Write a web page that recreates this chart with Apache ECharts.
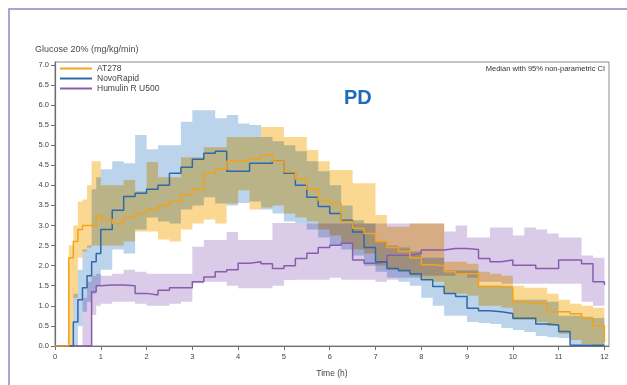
<!DOCTYPE html>
<html><head><meta charset="utf-8">
<script src="https://cdn.jsdelivr.net/npm/echarts@6/dist/echarts.min.js"></script>
<style>html,body{margin:0;padding:0;background:#fff}#c{width:627px;height:385px}</style>
</head><body><div id="c"></div>
<script>
const times = [0,0.1,0.2,0.3,0.4,0.5,0.6,0.7,0.8,0.9,1,
 1.25,1.5,1.75,2,2.25,2.5,2.75,3,
 3.25,3.5,3.75,4,4.25,4.5,4.75,5,
 5.25,5.5,5.75,6,6.25,6.5,6.75,7,
 7.25,7.5,7.75,8,8.25,8.5,8.75,9,
 9.25,9.5,9.75,10,10.25,10.5,10.75,11,
 11.25,11.5,11.75,12];

const at278Median = [0,0,0,2.2,2.6,2.9,3.0,3.0,3.0,3.25,3.15,
 3.05,3.2,3.3,3.4,3.5,3.6,3.75,3.9,
 4.3,4.4,4.6,4.6,4.65,4.75,4.6,4.34,
 4.15,3.9,3.63,3.55,3.1,2.93,2.8,2.6,
 2.45,2.35,2.2,2.02,2.0,1.85,1.8,1.8,
 1.48,1.48,1.45,1.1,1.06,1.06,0.85,0.85,
 0.8,0.69,0.5,0.1];
const at278Upper = [0,0,0,2.5,3.0,3.6,3.65,4.0,4.6,4.6,4.0,
 4.0,4.13,3.85,4.58,4.2,4.2,4.7,4.7,
 4.95,4.95,5.2,5.2,5.2,5.45,5.45,5.2,
 5.2,4.88,4.6,4.38,4.38,4.05,4.05,3.26,
 2.97,2.97,3.05,3.05,3.05,2.1,2.1,2.05,
 1.85,1.8,1.75,1.5,1.45,1.45,1.3,1.15,
 1.05,1.0,0.95,0];
const at278Lower = [0,0,0,0,1.2,2.2,2.35,2.45,2.5,2.5,2.5,
 2.5,2.6,2.85,2.85,2.65,2.6,2.9,3.05,
 3.15,3.05,3.55,3.88,3.4,3.45,3.5,3.3,
 3.2,3.1,2.9,2.75,2.55,2.4,2.3,2.0,
 1.9,1.85,1.75,1.65,1.6,1.3,1.3,1.25,
 1.0,1.0,0.95,0.65,0.65,0.6,0.5,0.3,
 0.15,0.05,0,0];

const novoMedian = [0,0,0,0,0.6,1.15,1.45,1.75,2.1,2.3,2.9,
 3.38,3.72,3.8,3.9,4.0,4.3,4.45,4.65,
 4.8,4.85,4.35,4.35,4.55,4.55,4.6,4.3,
 4.0,3.7,3.47,3.3,3.13,2.84,2.45,2.1,
 1.93,1.88,1.8,1.65,1.48,1.31,1.23,0.94,
 0.88,0.85,0.81,0.69,0.69,0.55,0.52,0.36,
 0.02,0.02,0.02,0.02];
const novoUpper = [0,0,0,0,1.3,1.9,2.4,2.5,3.9,4.2,4.4,
 4.6,4.55,5.25,4.9,5.0,5.0,5.58,5.87,
 5.87,5.67,5.75,5.54,5.5,5.2,5.1,5.0,
 4.85,4.6,4.35,4.0,3.5,3.13,3.05,2.6,
 2.5,2.45,2.35,2.2,2.2,1.88,1.88,1.88,
 1.5,1.5,1.5,1.15,1.15,1.15,1.1,0.75,
 0.75,0.73,0.7,0];
const novoLower = [0,0,0,0,0,0.5,0.85,1.1,1.3,1.5,1.9,
 2.4,2.3,2.9,3.2,3.1,3.05,3.4,3.5,
 3.7,3.55,3.5,3.56,3.6,3.4,3.3,3.1,
 3.05,2.9,2.7,2.5,2.4,2.25,2.0,1.85,
 1.7,1.6,1.5,1.2,1.0,0.75,0.75,0.6,
 0.57,0.55,0.45,0.4,0.35,0.25,0.22,0.2,
 0,0,0,0];

const humMedian = [0,0,0,0,0,0,0,0,1.35,1.5,1.52,
 1.52,1.5,1.31,1.27,1.39,1.45,1.45,1.6,
 1.72,1.85,1.9,2.06,2.1,2.05,1.93,2.0,
 2.18,2.31,2.45,2.51,2.56,2.14,2.06,2.1,
 2.26,2.26,2.3,2.39,2.39,2.43,2.43,2.4,
 2.18,2.1,2.14,2.01,2.01,1.93,1.93,2.14,
 2.14,2.05,1.6,1.52];
const humUpper = [0,0,0,0,0,0,1.2,1.6,1.75,1.8,1.75,
 1.8,1.9,1.85,1.8,1.8,1.8,1.8,2.47,
 2.64,2.64,2.84,2.64,2.64,2.64,3.06,3.06,
 3.05,3.05,3.05,3.05,3.05,3.05,3.05,3.05,
 3.05,3.05,3.05,3.05,3.05,2.85,3.0,2.7,
 2.7,2.95,2.95,2.75,2.95,2.9,2.8,2.7,
 2.7,2.25,2.2,0];
const humLower = [0,0,0,0,0,0,0,0,0.77,1.0,1.05,
 1.1,1.1,1.05,1.0,1.0,1.05,1.1,1.56,
 1.6,1.6,1.5,1.44,1.44,1.44,1.5,1.64,
 1.65,1.65,1.65,1.7,1.65,1.65,1.65,1.6,
 1.65,1.7,1.7,1.75,1.75,1.75,1.8,1.7,
 1.6,1.6,1.55,1.55,1.55,1.55,1.55,1.55,
 1.55,1.1,1.0,0];

const seriesNames = ['AT278', 'NovoRapid', 'Humulin R U500'];
const yTicks = [0,0.5,1,1.5,2,2.5,3,3.5,4,4.5,5,5.5,6,6.5,7];
const xTicks = [0,1,2,3,4,5,6,7,8,9,10,11,12];

const lineColors = ['#F2A31B', '#2E6AA6', '#8A5CAD'];
const bandColors = ['#FBD892', '#BCD3EC', '#DACBE8'];

function pairs(vals) { return times.map((t, i) => [t, vals[i]]); }

// step band (value holds from t_i until t_{i+1}) drawn as one polygon through the axes
function band(key, lo, up, color) {
  return {
    name: key + '_band', type: 'custom', silent: true, z: 1, animation: false,
    blendMode: 'multiply',
    data: times.map((t, i) => [t, lo[i], up[i]]),
    encode: { x: 0, y: [1, 2] },
    renderItem: function (params, api) {
      if (params.dataIndex !== 0) return null;
      const n = times.length;
      const top = [], bot = [];
      for (let i = 0; i < n; i++) {
        const tEnd = i < n - 1 ? times[i + 1] : times[i];
        top.push(api.coord([times[i], up[i]]));
        top.push(api.coord([tEnd, up[i]]));
        bot.push(api.coord([times[i], lo[i]]));
        bot.push(api.coord([tEnd, lo[i]]));
      }
      const pts = top.concat(bot.reverse());
      return { type: 'polygon', shape: { points: pts }, style: { fill: color, stroke: null } };
    }
  };
}
function medLine(name, vals, color) {
  return { name: name, type: 'line', step: 'end', data: pairs(vals), symbol: 'none', showSymbol: false,
    color: color, lineStyle: { color: color, width: 1.5 }, z: 3, animation: false };
}

const series = [
  band('novo', novoLower, novoUpper, bandColors[1]),
  band('at', at278Lower, at278Upper, bandColors[0]),
  band('hum', humLower, humUpper, bandColors[2]),
  medLine(seriesNames[2], humMedian, lineColors[2]),
  medLine(seriesNames[1], novoMedian, lineColors[1]),
  medLine(seriesNames[0], at278Median, lineColors[0])
];

const font = 'Liberation Sans, Arial, sans-serif';
const chart = echarts.init(document.getElementById('c'), null, { renderer: 'canvas' });
chart.setOption({
  backgroundColor: '#ffffff',
  animation: false,
  textStyle: { fontFamily: font },
  title: [
    { text: 'Glucose 20% (mg/kg/min)', left: 35, top: 45, padding: 0,
      textStyle: { fontSize: 9, fontWeight: 'normal', color: '#4a4a4a', fontFamily: font } },
    { text: 'Median with 95% non-parametric CI', right: 22, top: 65, padding: 0,
      textStyle: { fontSize: 7.5, fontWeight: 'normal', color: '#333', fontFamily: font } },
    { text: 'PD', left: 344, top: 88, padding: 0,
      textStyle: { fontSize: 20, fontWeight: 'bold', color: '#1E6BB8', fontFamily: font } }
  ],
  legend: {
    data: seriesNames, orient: 'vertical', left: 60, top: 64, padding: 0,
    itemWidth: 32, itemHeight: 2, itemGap: 1, icon: 'rect', selectedMode: false,
    textStyle: { fontSize: 8.5, color: '#444', lineHeight: 9, fontFamily: font }
  },
  grid: { left: 55, right: 18, top: 62, bottom: 39, show: true, borderColor: '#8c8c8c', borderWidth: 1,
    backgroundColor: 'transparent', outerBoundsMode: 'none' },
  xAxis: {
    type: 'value', min: 0, max: 12.1,
    name: 'Time (h)', nameLocation: 'middle', nameGap: 23,
    nameTextStyle: { fontSize: 8.5, color: '#444', fontFamily: font },
    axisLine: { show: true, lineStyle: { color: '#6f6f6f', width: 1.2 } },
    axisTick: { show: true, length: 4, customValues: xTicks, lineStyle: { color: '#6f6f6f' } },
    axisLabel: { customValues: xTicks, fontSize: 7.5, color: '#444', margin: 7, fontFamily: font,
      formatter: v => String(Math.round(v)) },
    splitLine: { show: false }
  },
  yAxis: {
    type: 'value', min: 0, max: 7.07,
    axisLine: { show: true, lineStyle: { color: '#6f6f6f', width: 1.2 } },
    axisTick: { show: true, length: 4, customValues: yTicks, lineStyle: { color: '#6f6f6f' } },
    axisLabel: { customValues: yTicks, fontSize: 7.5, color: '#444', margin: 6, fontFamily: font,
      formatter: v => v.toFixed(1) },
    splitLine: { show: false }
  },
  graphic: [
    { type: 'rect', shape: { x: 9, y: 9, width: 700, height: 500 }, silent: true,
      style: { fill: 'none', stroke: '#9b80c2', lineWidth: 1.5 }, z: 100 }
  ],
  series: series
});
</script>
</body></html>
